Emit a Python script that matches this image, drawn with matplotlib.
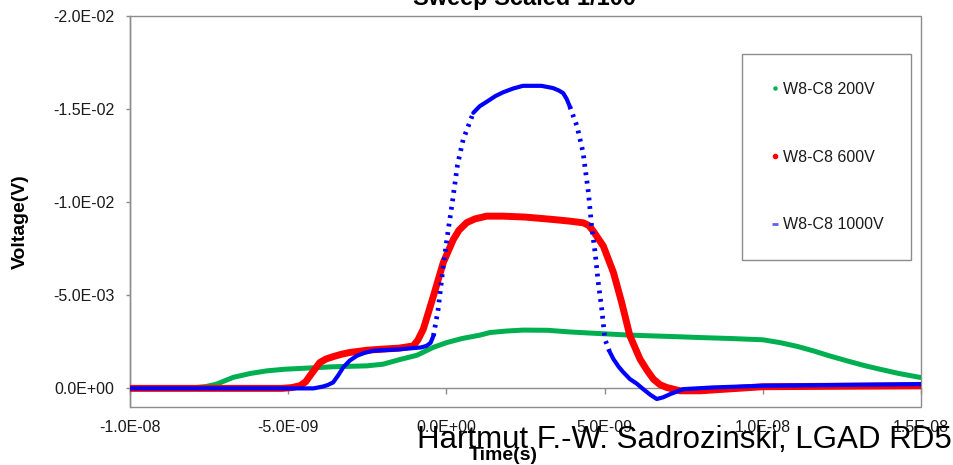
import numpy as np
import matplotlib
matplotlib.use("Agg")
from matplotlib import pyplot as plt
from matplotlib.lines import Line2D
from matplotlib.patches import Rectangle
from matplotlib.ticker import FixedLocator, FormatStrFormatter

plt.rcParams['font.family'] = ['Liberation Sans', 'DejaVu Sans']

# pulse shapes, time in ns and voltage in mV
t_200v = [-10.0, -8.5, -8.0, -7.6, -7.26, -6.74, -6.2, -5.68, -5.1, -4.63,
          -3.58, -2.51, -2.0, -1.47, -0.93, -0.42, 0.01, 0.5, 1.06, 1.38,
          1.9, 2.42, 3.2, 3.91, 4.22, 5.8, 7.38, 8.02, 8.96, 10.0, 10.54,
          11.1, 11.59, 12.1, 12.66, 13.2, 13.7, 14.3, 14.97]
v_200v = [0.0, 0.0, -0.03, -0.1, -0.23, -0.59, -0.8, -0.94, -1.03, -1.07,
          -1.16, -1.21, -1.3, -1.55, -1.78, -2.2, -2.46, -2.68, -2.86, -3.0,
          -3.08, -3.13, -3.12, -3.03, -3.0, -2.86, -2.77, -2.73, -2.68,
          -2.61, -2.46, -2.25, -2.02, -1.75, -1.48, -1.23, -1.03, -0.8,
          -0.59]

t_600v = [-10.0, -5.2, -4.9, -4.63, -4.45, -4.31, -4.15, -4.0, -3.8, -3.57,
          -3.3, -3.05, -2.5, -2.0, -1.5, -1.05, -0.9, -0.73, -0.41, -0.1,
          0.22, 0.4, 0.64, 0.9, 1.27, 1.79, 2.5, 3.38, 3.91, 4.33, 4.5, 4.64,
          4.96, 5.28, 5.54, 5.8, 6.12, 6.35, 6.54, 6.75, 6.96, 7.38, 8.02,
          10.0, 15.0]
v_600v = [0.0, 0.0, -0.04, -0.14, -0.35, -0.68, -1.05, -1.39, -1.58, -1.71,
          -1.84, -1.93, -2.05, -2.11, -2.16, -2.28, -2.6, -3.18, -4.96,
          -6.75, -8.0, -8.5, -8.9, -9.1, -9.25, -9.25, -9.2, -9.07, -8.98,
          -8.89, -8.75, -8.45, -7.64, -6.22, -4.61, -2.82, -1.57, -0.95,
          -0.5, -0.2, -0.05, 0.13, 0.13, -0.09, -0.14]

t_1000v = [-10.0, -4.2, -3.9, -3.75, -3.58, -3.42, -3.26, -3.05, -2.83, -2.6,
           -2.32, -1.47, -0.8, -0.63, -0.5, -0.41, -0.26, -0.1, 0.06, 0.2,
           0.35, 0.53, 0.85, 1.05, 1.28, 1.55, 1.79, 2.1, 2.42, 3.0, 3.37,
           3.55, 3.69, 3.8, 3.9, 4.13, 4.32, 4.49, 4.59, 4.7, 4.8, 4.91, 5.01,
           5.15, 5.28, 5.45, 5.59, 5.8, 6.02, 6.22, 6.45, 6.65, 6.85, 7.07,
           7.49, 8.43, 10.0, 15.0]
v_1000v = [0.0, 0.0, -0.1, -0.18, -0.32, -0.7, -1.13, -1.5, -1.75, -1.9,
           -2.02, -2.1, -2.2, -2.28, -2.45, -2.82, -4.25, -6.57, -8.54,
           -10.14, -12.0, -13.36, -14.8, -15.15, -15.4, -15.7, -15.9, -16.1,
           -16.25, -16.25, -16.13, -16.0, -15.86, -15.55, -15.14, -14.07,
           -12.66, -10.5, -8.71, -7.29, -5.68, -4.25, -2.64, -2.0, -1.57,
           -1.15, -0.87, -0.5, -0.25, 0.04, 0.35, 0.57, 0.48, 0.31, 0.04,
           -0.05, -0.14, -0.23]

labels = ['W8-C8 200V', 'W8-C8 600V', 'W8-C8 1000V']
x_ticks = [-1.0e-08, -5.0e-09, 0.0, 5.0e-09, 1.0e-08, 1.5e-08]
y_ticks = [-2.0e-02, -1.5e-02, -1.0e-02, -5.0e-03, 0.0]

GREEN = '#00b050'
RED = '#ff0000'
BLUE = '#0000ff'
GREY = '#8c8c8c'

W, H = 954, 465
fig = plt.figure(figsize=(W / 100, H / 100), dpi=100)
fig.patch.set_facecolor('white')
ax = fig.add_axes([130 / W, 1 - 407 / H, 791 / W, 391 / H])

NS, MV = 1e-9, 1e-3

ax.plot(np.array(t_200v) * NS, np.array(v_200v) * MV, color=GREEN, lw=3.6,
        solid_capstyle='round', solid_joinstyle='round', zorder=3)
ax.plot(np.array(t_600v) * NS, np.array(v_600v) * MV, color=RED, lw=5.0,
        solid_capstyle='round', solid_joinstyle='round', zorder=4)

# the 1000V trace is sampled evenly in time, so its fast edges break up
# into separate points; steep runs are drawn dotted, the rest solid
tb = np.array(t_1000v)
vb = np.array(v_1000v)
steep = np.abs(np.diff(vb) / np.diff(tb)) > 4.2
start = 0
for i in range(1, len(steep) + 1):
    if i == len(steep) or steep[i] != steep[start]:
        seg_t = tb[start:i + 1] * NS
        seg_v = vb[start:i + 1] * MV
        if steep[start]:
            ax.plot(seg_t, seg_v, color=BLUE, lw=3.4, dashes=(0.6, 1.2),
                    dash_capstyle='butt', zorder=5)
        else:
            ax.plot(seg_t, seg_v, color=BLUE, lw=3.0, solid_capstyle='round',
                    solid_joinstyle='round', zorder=5)
        start = i

ax.set_xlim(-1.0e-08, 1.5e-08)
ax.set_ylim(1.0e-03, -2.0e-02)

# horizontal axis crosses at zero, plot area framed separately
for side in ['top', 'right']:
    ax.spines[side].set_visible(False)
ax.spines['bottom'].set_position(('data', 0))
for side in ['bottom', 'left']:
    ax.spines[side].set_color(GREY)
    ax.spines[side].set_linewidth(1.0)
    ax.spines[side].set_zorder(2)
ax.add_patch(Rectangle((0, 0), 1, 1, transform=ax.transAxes, fill=False,
                       edgecolor=GREY, lw=1.0, clip_on=False, zorder=2))

ax.xaxis.set_major_locator(FixedLocator(x_ticks))
ax.yaxis.set_major_locator(FixedLocator(y_ticks))
ax.xaxis.set_major_formatter(FormatStrFormatter('%.1E'))
ax.yaxis.set_major_formatter(FormatStrFormatter('%.1E'))
ax.tick_params(axis='x', direction='out', length=4, width=1.0, color=GREY,
               labelsize=11.5, labelcolor='#1a1a1a', pad=19)
ax.tick_params(axis='y', direction='out', length=3, width=1.0, color=GREY,
               labelsize=11.5, labelcolor='#1a1a1a', pad=8)

handles = [
    Line2D([], [], ls='none', marker='o', ms=2.2, color=GREEN),
    Line2D([], [], ls='none', marker='o', ms=3.0, color=RED),
    Line2D([], [], ls='none', marker='_', ms=4.0, mew=2.0, color='#6060ff'),
]
leg = ax.legend(handles, labels, loc='upper left',
                bbox_to_anchor=(742 / W, 1 - 54 / H),
                bbox_transform=fig.transFigure, borderaxespad=0,
                fontsize=11.5, frameon=True, fancybox=False, framealpha=1,
                edgecolor=GREY, borderpad=1.75, labelspacing=3.3,
                handlelength=0.6, handletextpad=0.2)
leg.get_frame().set_linewidth(1.0)
for txt in leg.get_texts():
    txt.set_color('#1a1a1a')

fig.text(525 / W, 1 - 5 / H, 'Sweep Scaled 1/100', ha='center', va='baseline',
         fontsize=17, fontweight='bold')
fig.text(20 / W, 1 - 222 / H, 'Voltage(V)', rotation=90, ha='center',
         va='center', fontsize=14, fontweight='bold')
fig.text(503 / W, 1 - 455 / H, 'Time(s)', ha='center', va='center',
         fontsize=14, fontweight='bold')
fig.text(417 / W, 1 - 448 / H, 'Hartmut F.-W. Sadrozinski, LGAD RD50',
         ha='left', va='baseline', fontsize=22.5)

fig.savefig('out.png', dpi=100, facecolor='white')
